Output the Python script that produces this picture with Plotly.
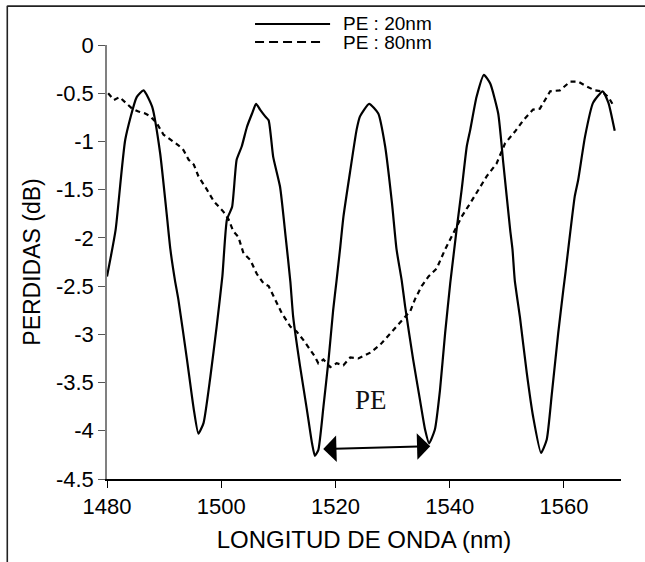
import plotly.graph_objects as go

# ---------------- data ----------------
wl_20 = [1480.0, 1481.5, 1483.2, 1485.2, 1486.4, 1487.9, 1489.3, 1490.5, 1491.1, 1491.9,
         1492.5, 1494.0, 1495.2, 1496.0, 1496.9, 1498.1, 1499.2, 1500.2, 1501.0, 1501.9,
         1502.7, 1503.6, 1504.5, 1505.4, 1506.1, 1506.8, 1507.7, 1508.3, 1509.1, 1510.3,
         1511.3, 1512.1, 1512.6, 1513.8, 1515.0, 1515.9, 1516.4, 1517.0, 1517.9, 1518.8,
         1519.6, 1520.2, 1520.8, 1521.4, 1522.6, 1523.7, 1524.3, 1525.9, 1527.5, 1528.7,
         1529.9, 1530.7, 1531.6, 1532.2, 1533.6, 1534.8, 1535.7, 1536.4, 1537.4, 1538.3,
         1539.2, 1540.1, 1540.8, 1541.2, 1542.1, 1543.0, 1543.6, 1544.7, 1546.0, 1547.1,
         1548.5, 1549.4, 1550.6, 1551.0, 1551.4, 1552.3, 1553.5, 1554.6, 1556.0, 1557.0,
         1557.9, 1559.0, 1559.9, 1560.3, 1561.9, 1562.5, 1563.7, 1565.1, 1566.8, 1567.8,
         1568.9]
loss_20 = [-2.40, -1.92, -0.98, -0.54, -0.47, -0.64, -1.12, -1.78, -2.12, -2.44,
           -2.64, -3.26, -3.78, -4.03, -3.92, -3.44, -2.92, -2.40, -1.81, -1.68,
           -1.19, -1.05, -0.85, -0.71, -0.61, -0.67, -0.74, -0.78, -1.16, -1.47,
           -2.00, -2.45, -2.82, -3.33, -3.78, -4.13, -4.26, -4.20, -3.75, -3.26,
           -2.75, -2.44, -2.12, -1.78, -1.30, -0.88, -0.74, -0.61, -0.71, -1.05,
           -1.64, -2.12, -2.44, -2.71, -3.26, -3.68, -3.99, -4.13, -3.99, -3.58,
           -2.99, -2.47, -2.12, -1.92, -1.50, -1.05, -0.88, -0.54, -0.31, -0.40,
           -0.71, -1.23, -1.92, -2.12, -2.44, -2.82, -3.40, -3.85, -4.23, -4.09,
           -3.61, -2.99, -2.54, -2.35, -1.57, -1.40, -0.95, -0.60, -0.48, -0.60,
           -0.89]

wl_80 = [1480.2, 1481.2, 1482.2, 1483.2, 1484.4, 1485.5, 1486.7, 1487.6, 1488.7, 1489.9,
         1491.1, 1492.5, 1493.4, 1494.3, 1495.2, 1496.0, 1497.5, 1498.7, 1500.4, 1501.3,
         1502.1, 1503.0, 1503.9, 1505.1, 1506.2, 1507.4, 1508.3, 1509.4, 1510.6, 1512.1,
         1513.2, 1514.4, 1515.6, 1516.4, 1517.0, 1517.9, 1519.1, 1520.2, 1521.4, 1522.6,
         1524.0, 1526.1, 1527.8, 1529.6, 1531.3, 1533.1, 1533.9, 1535.1, 1536.3, 1537.7,
         1539.2, 1540.6, 1542.1, 1543.6, 1545.0, 1546.5, 1548.2, 1549.7, 1551.4, 1552.9,
         1554.6, 1555.8, 1557.6, 1559.3, 1561.1, 1562.5, 1564.0, 1565.4, 1566.6, 1567.8,
         1568.6]
loss_80 = [-0.50, -0.57, -0.54, -0.59, -0.66, -0.69, -0.71, -0.74, -0.81, -0.93,
           -0.98, -1.04, -1.09, -1.19, -1.24, -1.36, -1.50, -1.62, -1.73, -1.81,
           -1.93, -1.99, -2.16, -2.23, -2.37, -2.47, -2.50, -2.64, -2.78, -2.92,
           -2.97, -3.06, -3.16, -3.23, -3.30, -3.26, -3.34, -3.30, -3.32, -3.24,
           -3.25, -3.19, -3.11, -2.99, -2.87, -2.76, -2.64, -2.50, -2.40, -2.32,
           -2.12, -1.95, -1.78, -1.64, -1.50, -1.36, -1.23, -1.02, -0.90, -0.78,
           -0.67, -0.66, -0.48, -0.47, -0.38, -0.38, -0.43, -0.47, -0.48, -0.54,
           -0.62]

series_names = ["PE : 20nm", "PE : 80nm"]
x_ticks = [1480, 1500, 1520, 1540, 1560]
y_ticks = [0, -0.5, -1, -1.5, -2, -2.5, -3, -3.5, -4, -4.5]
y_tick_labels = ["0", "-0.5", "-1", "-1.5", "-2", "-2.5", "-3", "-3.5", "-4", "-4.5"]
x_title = "LONGITUD DE ONDA (nm)"
y_title = "PERDIDAS (dB)"
pe_label = "PE"
pe_arrow_from = (1517.6, -4.19)
pe_arrow_to = (1536.6, -4.16)
pe_label_pos = (1526.2, -3.68)

SANS = "Liberation Sans, Arial, sans-serif"
SERIF = "Liberation Serif, Times New Roman, serif"

fig = go.Figure()
fig.add_trace(go.Scatter(x=wl_20, y=loss_20, mode="lines", name=series_names[0],
                         line=dict(color="black", width=2.2, shape="spline", smoothing=0.5),
                         showlegend=False))
fig.add_trace(go.Scatter(x=wl_80, y=loss_80, mode="lines", name=series_names[1],
                         line=dict(color="black", width=2.2, dash="5px,4px"),
                         showlegend=False))

# manual legend + outer frame (paper coordinates)
shapes = [
    dict(type="line", xref="paper", yref="paper", x0=0.288, x1=0.434, y0=1.0484, y1=1.0484,
         line=dict(color="black", width=2.2)),
    dict(type="line", xref="paper", yref="paper", x0=0.288, x1=0.420, y0=1.0069, y1=1.0069,
         line=dict(color="black", width=2.2, dash="9px,5px")),
    dict(type="line", xref="paper", yref="paper", x0=-0.194, x1=1.06, y0=1.0895, y1=1.0895,
         line=dict(color="#222222", width=1.8)),
    dict(type="line", xref="paper", yref="paper", x0=-0.194, x1=-0.194, y0=1.0906, y1=-0.25,
         line=dict(color="#222222", width=1.6)),
]

annotations = [
    dict(xref="paper", yref="paper", x=0.4566, y=1.0495, text=series_names[0], showarrow=False,
         xanchor="left", yanchor="middle", borderpad=0,
         font=dict(family=SANS, size=19, color="black")),
    dict(xref="paper", yref="paper", x=0.4566, y=1.0058, text=series_names[1], showarrow=False,
         xanchor="left", yanchor="middle", borderpad=0,
         font=dict(family=SANS, size=19, color="black")),
    dict(xref="x", yref="y", axref="x", ayref="y",
         x=pe_arrow_to[0], y=pe_arrow_to[1], ax=pe_arrow_from[0], ay=pe_arrow_from[1],
         text="", showarrow=True, arrowhead=1, startarrowhead=1, arrowside="end+start",
         arrowsize=2.2, startarrowsize=2.2, arrowwidth=2, arrowcolor="black",
         standoff=0, startstandoff=0),
    dict(xref="x", yref="y", x=pe_label_pos[0], y=pe_label_pos[1], text=pe_label,
         showarrow=False, font=dict(family=SERIF, size=27, color="#111111")),
]

fig.update_layout(
    width=645, height=562,
    margin=dict(l=107, r=24, t=45, b=83),
    paper_bgcolor="white", plot_bgcolor="white",
    showlegend=False,
    shapes=shapes, annotations=annotations,
    font=dict(family=SANS, size=22, color="black"),
    xaxis=dict(range=[1480, 1570], tickvals=x_ticks, ticks="outside", ticklen=7,
               tickwidth=1.3, tickcolor="black", showline=True, linecolor="black",
               linewidth=1.5, showgrid=False, zeroline=False,
               tickfont=dict(family=SANS, size=22, color="black"),
               title=dict(text=x_title, font=dict(family=SANS, size=24, color="black"),
                          standoff=13)),
    yaxis=dict(range=[-4.5, 0], tickvals=y_ticks, ticktext=y_tick_labels, ticks="outside",
               ticklen=7, tickwidth=1.3, tickcolor="#555555", showline=True,
               linecolor="#808080", linewidth=1.5, showgrid=False, zeroline=False,
               tickfont=dict(family=SANS, size=22, color="black"),
               title=dict(text=y_title, font=dict(family=SANS, size=23, color="black"),
                          standoff=9)),
)

fig.write_html("out.html", config={"displayModeBar": False},
               post_script="document.body.style.margin='0';document.body.style.padding='0';")
